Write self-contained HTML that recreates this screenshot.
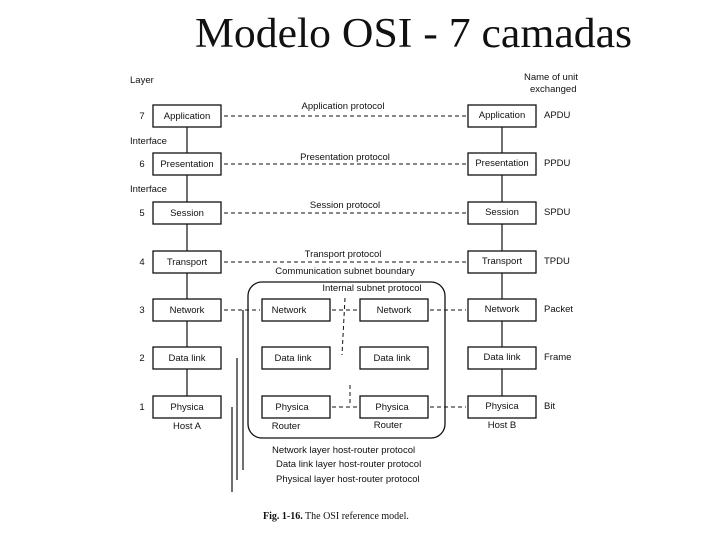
<!DOCTYPE html>
<html><head><meta charset="utf-8"><style>
html,body{margin:0;padding:0;background:#fff;}
svg{display:block;}
text{font-family:"Liberation Sans",sans-serif;font-size:9.5px;fill:#111;}
.t{font-family:"Liberation Serif",serif;font-size:42px;}
.b{fill:none;stroke:#111;stroke-width:1.3;}
.d{stroke:#111;stroke-width:1;stroke-dasharray:4,3;fill:none;}
.s{stroke:#111;stroke-width:1.2;fill:none;}
</style></head><body>
<svg width="720" height="540" viewBox="0 0 720 540" xmlns="http://www.w3.org/2000/svg">
<text class="t" x="195" y="47" textLength="437" lengthAdjust="spacingAndGlyphs">Modelo OSI - 7 camadas</text>
<text x="130" y="83">Layer</text>
<text x="524" y="80">Name of unit</text>
<text x="530" y="92">exchanged</text>
<text x="130" y="144">Interface</text>
<text x="130" y="192">Interface</text>
<g text-anchor="middle">
<text x="142" y="119">7</text><text x="142" y="167">6</text><text x="142" y="216">5</text><text x="142" y="265">4</text><text x="142" y="313">3</text><text x="142" y="361">2</text><text x="142" y="410">1</text>
</g>
<g class="b">
<rect x="153" y="105" width="68" height="22"/><rect x="153" y="153" width="68" height="22"/><rect x="153" y="202" width="68" height="22"/><rect x="153" y="251" width="68" height="22"/><rect x="153" y="299" width="68" height="22"/><rect x="153" y="347" width="68" height="22"/><rect x="153" y="396" width="68" height="22"/>
<rect x="468" y="105" width="68" height="22"/><rect x="468" y="153" width="68" height="22"/><rect x="468" y="202" width="68" height="22"/><rect x="468" y="251" width="68" height="22"/><rect x="468" y="299" width="68" height="22"/><rect x="468" y="347" width="68" height="22"/><rect x="468" y="396" width="68" height="22"/>
<rect x="262" y="299" width="68" height="22"/><rect x="262" y="347" width="68" height="22"/><rect x="262" y="396" width="68" height="22"/>
<rect x="360" y="299" width="68" height="22"/><rect x="360" y="347" width="68" height="22"/><rect x="360" y="396" width="68" height="22"/>
<rect x="248" y="282" width="197" height="156" rx="14"/>
</g>
<g text-anchor="middle">
<text x="187" y="119">Application</text><text x="187" y="167">Presentation</text><text x="187" y="216">Session</text><text x="187" y="265">Transport</text><text x="187" y="313">Network</text><text x="187" y="361">Data link</text><text x="187" y="410">Physica</text>
<text x="502" y="118">Application</text><text x="502" y="166">Presentation</text><text x="502" y="215">Session</text><text x="502" y="264">Transport</text><text x="502" y="312">Network</text><text x="502" y="360">Data link</text><text x="502" y="409">Physica</text>
<text x="289" y="313">Network</text><text x="293" y="361">Data link</text><text x="292" y="410">Physica</text>
<text x="394" y="313">Network</text><text x="392" y="361">Data link</text><text x="392" y="410">Physica</text>
<text x="187" y="429">Host A</text><text x="502" y="428">Host B</text><text x="286" y="429">Router</text><text x="388" y="428">Router</text>
<text x="343" y="109">Application protocol</text><text x="345" y="160">Presentation protocol</text><text x="345" y="208">Session protocol</text><text x="343" y="257">Transport protocol</text>
<text x="345" y="274">Communication subnet boundary</text><text x="372" y="291">Internal subnet protocol</text>
</g>
<text x="544" y="118">APDU</text><text x="544" y="166">PPDU</text><text x="544" y="215">SPDU</text><text x="544" y="264">TPDU</text><text x="544" y="312">Packet</text><text x="544" y="360">Frame</text><text x="544" y="409">Bit</text>
<g class="d">
<line x1="224" y1="116" x2="466" y2="116"/><line x1="224" y1="164" x2="466" y2="164"/><line x1="224" y1="213" x2="466" y2="213"/><line x1="224" y1="262" x2="466" y2="262"/>
<line x1="224" y1="310" x2="260" y2="310"/><line x1="332" y1="310" x2="358" y2="310"/><line x1="430" y1="310" x2="466" y2="310"/>
<line x1="332" y1="407" x2="358" y2="407"/><line x1="430" y1="407" x2="466" y2="407"/>
<line x1="345" y1="298" x2="342" y2="355"/><line x1="350" y1="385" x2="350" y2="405"/>
</g>
<g class="s">
<line x1="187" y1="127" x2="187" y2="153"/><line x1="187" y1="175" x2="187" y2="202"/><line x1="187" y1="224" x2="187" y2="251"/><line x1="187" y1="273" x2="187" y2="299"/><line x1="187" y1="321" x2="187" y2="347"/><line x1="187" y1="369" x2="187" y2="396"/>
<line x1="502" y1="127" x2="502" y2="153"/><line x1="502" y1="175" x2="502" y2="202"/><line x1="502" y1="224" x2="502" y2="251"/><line x1="502" y1="273" x2="502" y2="299"/><line x1="502" y1="321" x2="502" y2="347"/><line x1="502" y1="369" x2="502" y2="396"/>
<line x1="243" y1="310" x2="243" y2="470"/><line x1="237" y1="358" x2="237" y2="480"/><line x1="232" y1="407" x2="232" y2="492"/>
</g>
<text x="272" y="453">Network layer host-router protocol</text>
<text x="276" y="467">Data link layer host-router protocol</text>
<text x="276" y="482">Physical layer host-router protocol</text>
<text x="263" y="519" style="font-family:'Liberation Serif',serif;font-size:10px;"><tspan font-weight="bold">Fig. 1-16.</tspan> The OSI reference model.</text>
</svg>
</body></html>
